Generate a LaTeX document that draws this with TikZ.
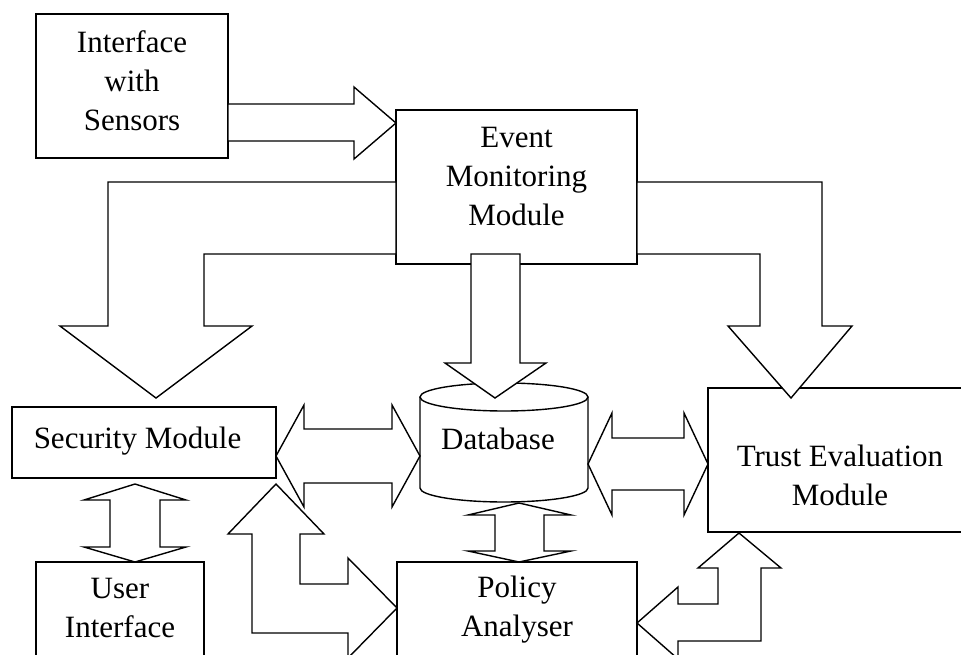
\documentclass[tikz,border=0pt]{standalone}
\usepackage{fontspec}
\setmainfont{Liberation Serif}

\begin{document}
\begin{tikzpicture}[x=1pt, y=-1pt, line width=1.4pt, line join=miter,
        box/.style = {draw, inner sep=0pt},
        txt/.style = {align=center, font=\fontsize{31}{39}\selectfont},
        blk/.style = {draw, fill=white}]
    \useasboundingbox (0,0) rectangle (961,655);
    \clip (0,0) rectangle (961,655);

    \node[box, minimum width=192pt, minimum height=144pt, label={[txt, yshift=5.5pt]center:Interface\\with\\Sensors}] (iws) at (132,86) {};
    \node[box, minimum width=241pt, minimum height=154pt, label={[txt, yshift=10pt]center:Event\\Monitoring\\Module}] (emm) at (516.5,187) {};
    \node[box, minimum width=264pt, minimum height=71pt, label={[txt, xshift=-6.5pt, yshift=1.5pt]center:Security Module}] (sec) at (144,442.5) {};
    \node[box, minimum width=264pt, minimum height=144pt, label={[txt, yshift=-15pt]center:Trust Evaluation\\Module}] (tem) at (840,460) {};
    \node[box, minimum width=168pt, minimum height=106pt, label={[txt, yshift=7pt]center:User\\Interface}] (ui) at (120,615) {};
    \node[box, minimum width=240pt, minimum height=106pt, label={[txt, yshift=5.5pt]center:Policy\\Analyser}] (pa) at (517,615) {};

    \draw[fill=white] (420,397) -- (420,488) .. controls (420,495.7) and (457.6,502) .. (504,502)
        .. controls (550.4,502) and (588,495.7) .. (588,488) -- (588,397);
    \draw[fill=white] (504,397) ellipse [x radius=84pt, y radius=14pt];
    \node[txt] (db) at (498,439) {Database};

    \draw[blk] (228,104) -- (354,104) -- (354,87) -- (396,123) -- (354,159) -- (354,141) -- (228,141) -- cycle;
    \draw[blk] (396,182) -- (108,182) -- (108,326) -- (60,326) -- (156,398) -- (252,326) -- (204,326) -- (204,254) -- (396,254) -- cycle;
    \draw[blk] (471,254) -- (520,254) -- (520,363) -- (546,363) -- (495,398) -- (445,363) -- (471,363) -- cycle;
    \draw[blk] (637,182) -- (822,182) -- (822,326) -- (852,326) -- (791,398) -- (728,326) -- (760,326) -- (760,254) -- (637,254) -- cycle;

    \draw[blk] (276,456) -- (304,405) -- (304,429) -- (392,429) -- (392,405) -- (420,456) -- (392,507) -- (392,483) -- (304,483) -- (304,507) -- cycle;
    \draw[blk] (588,464) -- (612,413) -- (612,438) -- (684,438) -- (684,413) -- (708,464) -- (684,515) -- (684,490) -- (612,490) -- (612,515) -- cycle;
    \draw[blk] (135,484) -- (186,500) -- (160,500) -- (160,547) -- (186,547) -- (135,562) -- (84,547) -- (110,547) -- (110,500) -- (84,500) -- cycle;
    \draw[blk] (519,503) -- (571,515) -- (544,515) -- (544,551) -- (571,551) -- (519,562) -- (468,551) -- (495,551) -- (495,515) -- (468,515) -- cycle;

    \draw[blk] (276,484) -- (324,534) -- (300,534) -- (300,584) -- (348,584) -- (348,558) -- (397,608) -- (348,658) -- (348,633) -- (252,633) -- (252,534) -- (228,534) -- cycle;
    \draw[blk] (637,623) -- (678,587) -- (678,604) -- (718,604) -- (718,568) -- (698,568) -- (739,533) -- (781,568) -- (761,568) -- (761,641) -- (678,641) -- (678,659) -- cycle;
\end{tikzpicture}
\end{document}
